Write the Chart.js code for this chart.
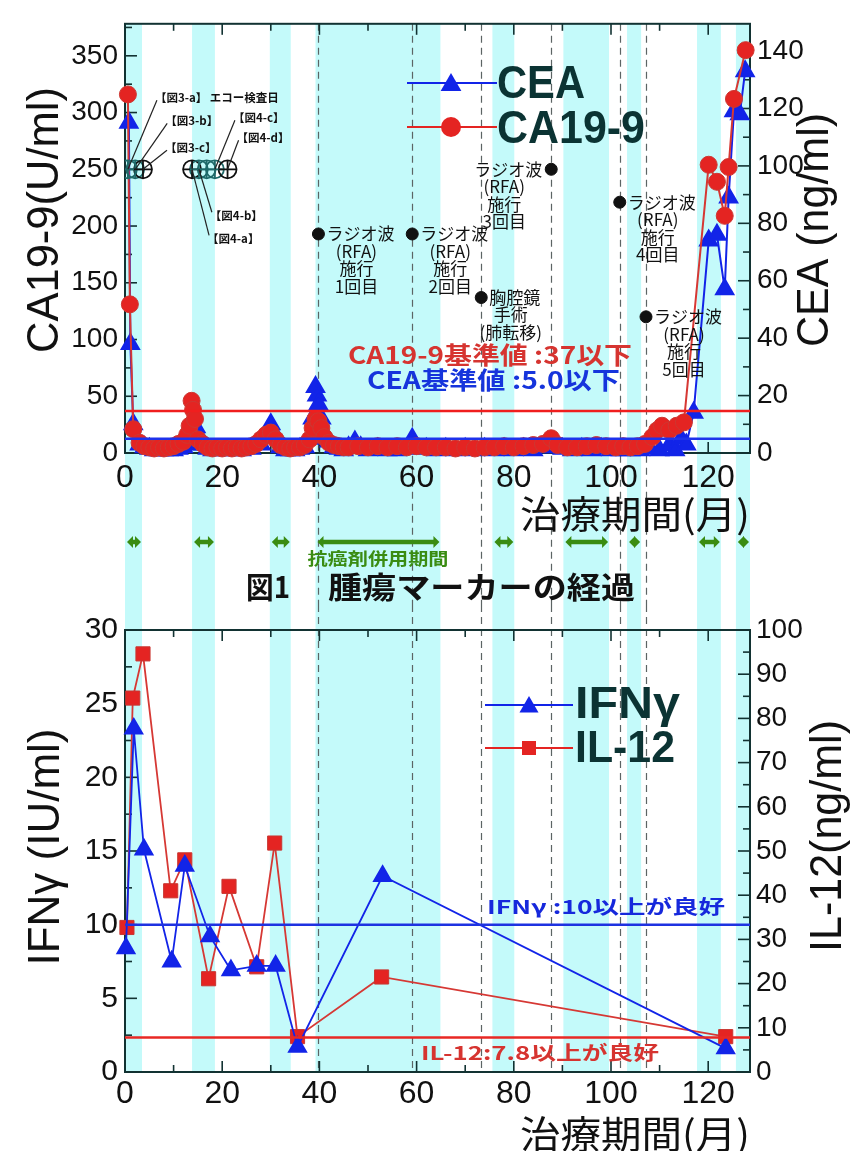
<!DOCTYPE html>
<html>
<head>
<meta charset="utf-8">
<script src="https://cdn.jsdelivr.net/npm/chart.js@4.4.1/dist/chart.umd.min.js"></script>
<style>
body{margin:0;background:#fff;}
canvas{display:block;}
</style>
</head>
<body>
<canvas id="markers" width="855" height="605"></canvas>
<canvas id="immune" width="855" height="546"></canvas>
<script>
// months (x axis) shared by both panels
const xMax = 128.6;
const bandStart = [0, 13.8, 29.8, 39.2, 75.6, 90.2, 103.3, 117.7, 125.7];
const bandEnd   = [3.5, 18.5, 34.1, 64.9, 80.1, 99.6, 106.2, 122.6, 128.6];
const dashMonths = [39.8, 59.1, 73.3, 87.7, 101.8, 107.2];

// CA19-9 (U/ml), left axis
const caMonths = [0.6,1.0,1.7, 3,4,5,6,7,8,9,10,11,12, 12.8,13.3,13.7,14.0,14.4,
  15,16,17,18,19,20,21,22,23,24,25,26,27,28,29,30,31,32,33,34,35,36,37,38,
  38.6,39.2,39.8,40.4, 41,42,43,44,45,46,
  48,50,52,54,56,58,60,62,64,66,68,70,72,74,76,78,80,82,84,86,
  87.7, 89,91,93,95,97,99,101,
  102.5,104,105.5,107,108.5,109.5,110.5,112,113.5,115,
  120.1,121.8,123.4,124.2,125.3,127.7];
const caValues = [316,131,21, 9,6,5,4,5,4,5,6,8,10, 16,24,46,38,30,
  12,8,5,4,5,4,5,4,5,4,5,6,8,12,16,18,12,7,5,4,5,5,7,12,
  22,30,28,22, 14,9,7,6,5,5,
  6,5,6,5,6,5,6,5,5,5,4,5,4,5,5,6,5,6,7,8,
  13, 7,5,5,6,7,6,5,
  6,5,6,8,14,20,24,20,24,27,
  254,239,209,252,312,355];

// CEA (ng/ml), right axis
const ceaMonths = [0.8,1.1,1.7, 3,4,5,6,7,8,9,10,11,12,13,14,14.6,15.2,16,17,18,
  20,22,24,26,28,29,30,31,32,33,34,35,36,37,38,
  38.6,39.2,39.5,39.8,40.4,41,42,43,44,45,46,47.3,48.5,
  50,52,54,56,58,59.1,60,62,64,66,68,70,72,74,76,78,80,82,84,86,88,90,92,94,96,98,100,
  102,104,106,108,110,112,113.2,114.4,115.5,117,
  120.1,121.8,123.4,124.2,125.3,126.5,127.6];
const ceaValues = [115,38,10, 3,2,1.5,1,1,1,1,1,1.5,2,3,6,9,6,3,1.5,1,
  1,1,1,1.5,3,6,10,6,2,1,1,1,1.5,2,5,
  12,23,20,17,12,7,4,2,1.5,1,2,4,2,
  1,1.5,1,1,1.5,5,2,1.5,1,1.5,1,1.5,1,1.5,1,1.5,1,1.5,1,2,2,1.5,1,1.5,1,1.5,1,
  1,1,1,1.5,1,2.7,1,5,3,14,
  74,76,57,89,119,118,133];

const caLimit = 37;
const ceaLimit = 5.0;

// echo examination days (drawn on the CA19-9 scale)
const echoMonths = [0.6, 2.1, 3.7, 13.8, 15.2, 16.8, 18.5, 21.1];
const echoLevel = 250;
const echoColors = ['#1f6a6a','#1f6a6a','#111','#111','#1f6a6a','#1f6a6a','#1f6a6a','#111'];
const echoLabels = ['【図3-a】 エコー検査日','【図3-b】','【図3-c】','【図4-a】','【図4-b】',null,'【図4-c】','【図4-d】'];

// treatments
const rfaMonths = [39.8, 59.1, 73.3, 87.7, 101.8, 107.2];
const rfaLevels = [193, 193, 137, 250, 221, 120];
const rfaLabels = [
  ['ラジオ波','(RFA)','施行','1回目'],
  ['ラジオ波','(RFA)','施行','2回目'],
  ['胸腔鏡','手術','(肺転移)'],
  ['ラジオ波','(RFA)','施行','3回目'],
  ['ラジオ波','(RFA)','施行','4回目'],
  ['ラジオ波','(RFA)','施行','5回目']
];

// IFN-gamma (IU/ml), left axis of lower panel
const ifnMonths = [0.2, 1.8, 3.9, 9.6, 12.3, 17.5, 21.8, 27.1, 31.0, 35.5, 53.0, 123.6];
const ifnValues = [8.4, 23.3, 15.1, 7.5, 14.0, 9.2, 6.9, 7.2, 7.2, 1.7, 13.3, 1.6];
// IL-12 (ng/ml), right axis of lower panel
const il12Months = [0.4, 1.6, 3.7, 9.4, 12.3, 17.2, 21.4, 27.1, 30.8, 35.5, 52.8, 123.6];
const il12Values = [32.7, 84.6, 94.6, 41.0, 48.0, 21.1, 42.0, 23.8, 51.8, 8.0, 21.5, 8.0];
const ifnLimit = 10;
const il12Limit = 7.8;

const LAT = "'Liberation Sans', Arial, sans-serif";
const JP = "'Noto Sans CJK JP', 'Liberation Sans', sans-serif";
const BLUE = 'rgb(18,36,232)';
const RED = 'rgb(228,36,34)';
const DARK = '#0b3333';
const GREEN = 'rgb(58,140,18)';

const pts = (xs, ys) => xs.map((x, i) => ({x: x, y: ys[i]}));
const flat = (v) => [{x: 0, y: v}, {x: xMax, y: v}];

function fitText(ctx, str, x, y, width, font, color, align, rot) {
  ctx.save();
  ctx.font = font;
  ctx.fillStyle = color;
  ctx.textBaseline = 'middle';
  ctx.textAlign = align || 'left';
  const w = ctx.measureText(str).width;
  ctx.translate(x, y);
  if (rot) ctx.rotate(rot);
  ctx.scale(width ? width / w : 1, 1);
  ctx.fillText(str, 0, 0);
  ctx.restore();
}

function seg(ctx, x1, y1, x2, y2) {
  ctx.beginPath(); ctx.moveTo(x1, y1); ctx.lineTo(x2, y2); ctx.stroke();
}

// cyan periods + dashed treatment lines, reaching through the gap between panels
const backdrop = {
  id: 'backdrop',
  beforeDraw(chart, args, opts) {
    const {ctx, chartArea: a, scales: {x}} = chart;
    const y0 = opts.down ? a.top : 0;
    const y1 = opts.down ? chart.height : a.bottom;
    ctx.save();
    ctx.fillStyle = 'rgb(196,250,250)';
    bandStart.forEach((s, i) => {
      const p0 = x.getPixelForValue(s), p1 = x.getPixelForValue(bandEnd[i]);
      ctx.fillRect(p0, y0, p1 - p0, y1 - y0);
    });
    ctx.strokeStyle = '#5c6464';
    ctx.lineWidth = 1.2;
    ctx.setLineDash([7, 5]);
    dashMonths.forEach(m => {
      const p = Math.round(x.getPixelForValue(m)) + 0.5;
      seg(ctx, p, y0, p, y1);
    });
    ctx.restore();
  }
};

// box with inward tick marks
const frame = {
  id: 'frame',
  beforeDatasetsDraw(chart, args, opts) {
    const {ctx, chartArea: a, scales} = chart;
    ctx.save();
    ctx.strokeStyle = '#123232';
    ctx.lineWidth = 2;
    ctx.strokeRect(a.left, a.top, a.right - a.left, a.bottom - a.top);
    ctx.lineWidth = 1.6;
    const x = scales.x;
    for (let v = 0; v <= x.max + 1e-6; v += 10) {
      const p = x.getPixelForValue(v), len = v % 20 ? 7 : 11;
      seg(ctx, p, a.bottom, p, a.bottom - len);
      seg(ctx, p, a.top, p, a.top + len);
    }
    opts.axes.forEach(ax => {
      const s = scales[ax.id];
      for (let k = 0; k * ax.minor <= s.max + 1e-6; k++) {
        const p = s.getPixelForValue(k * ax.minor), len = k % ax.every ? 7 : 12;
        if (ax.side === 'left') seg(ctx, a.left, p, a.left + len, p);
        else seg(ctx, a.right, p, a.right - len, p);
      }
    });
    ctx.restore();
  }
};

function triangle(ctx, x, y, r, color) {
  ctx.fillStyle = color;
  ctx.beginPath();
  ctx.moveTo(x, y - r);
  ctx.lineTo(x + r * 0.866, y + r / 2);
  ctx.lineTo(x - r * 0.866, y + r / 2);
  ctx.closePath(); ctx.fill();
}

function dblArrow(ctx, x1, x2, y) {
  const w = 6, h = 6;
  ctx.lineWidth = 4.5;
  seg(ctx, x1 + w - 1, y, x2 - w + 1, y);
  ctx.beginPath(); ctx.moveTo(x1, y); ctx.lineTo(x1 + w, y - h); ctx.lineTo(x1 + w, y + h); ctx.closePath(); ctx.fill();
  ctx.beginPath(); ctx.moveTo(x2, y); ctx.lineTo(x2 - w, y - h); ctx.lineTo(x2 - w, y + h); ctx.closePath(); ctx.fill();
}

const topNotes = {
  id: 'topNotes',
  afterDraw(chart) {
    const {ctx, scales: {x, yCA}} = chart;
    ctx.save();
    // axis titles
    fitText(ctx, 'CA19-9(U/ml)', 46, 220, 266, '44px ' + LAT, '#111', 'center', -Math.PI / 2);
    fitText(ctx, 'CEA (ng/ml)', 816, 230, 234, '44px ' + LAT, '#111', 'center', -Math.PI / 2);
    fitText(ctx, '治療期間(月)', 750, 514, 230, '38px ' + JP, '#111', 'right');

    // legend
    ctx.lineWidth = 2;
    ctx.strokeStyle = BLUE; seg(ctx, 407, 83, 497, 83);
    triangle(ctx, 451, 85, 12, BLUE);
    ctx.strokeStyle = RED; seg(ctx, 407, 127, 497, 127);
    ctx.fillStyle = RED; ctx.beginPath(); ctx.arc(451, 127, 10, 0, Math.PI * 2); ctx.fill();
    fitText(ctx, 'CEA', 497, 85, 88, 'bold 46px ' + LAT, DARK, 'left');
    fitText(ctx, 'CA19-9', 497, 130, 148, 'bold 46px ' + LAT, DARK, 'left');

    // reference values
    fitText(ctx, 'CA19-9基準値 :37以下', 348, 355, 284, 'bold 24px ' + JP, 'rgb(214,52,48)', 'left');
    fitText(ctx, 'CEA基準値 :5.0以下', 367, 380, 253, 'bold 24px ' + JP, 'rgb(22,52,220)', 'left');

    // echo labels with leader lines
    const place = [[27, -72], [30, -49], [22, -22], [15, 69], [11, 46], null, [18, -52], [9, -32]];
    ctx.strokeStyle = '#222';
    ctx.lineWidth = 1.2;
    echoMonths.forEach((m, i) => {
      if (!echoLabels[i]) return;
      const px = x.getPixelForValue(m), py = yCA.getPixelForValue(echoLevel);
      const [dx, dy] = place[i];
      seg(ctx, px, py, px + dx + 2, py + dy + (dy < 0 ? 3 : -3));
      ctx.font = 'bold 11.5px ' + JP;
      ctx.fillStyle = '#111';
      ctx.textAlign = 'left';
      ctx.textBaseline = 'middle';
      ctx.fillText(echoLabels[i], px + dx, py + dy);
    });

    // treatment notes
    rfaMonths.forEach((m, i) => {
      const px = x.getPixelForValue(m), py = yCA.getPixelForValue(rfaLevels[i]);
      const lines = rfaLabels[i];
      ctx.font = '17px ' + JP;
      ctx.fillStyle = '#111';
      ctx.textBaseline = 'middle';
      const w0 = ctx.measureText(lines[0]).width;
      const x0 = i === 3 ? px - 9 - w0 : px + 8;
      ctx.textAlign = 'left';
      ctx.fillText(lines[0], x0, py);
      ctx.textAlign = 'center';
      lines.slice(1).forEach((t, j) => ctx.fillText(t, x0 + w0 / 2 - 4, py + 17.5 * (j + 1)));
    });

    // period arrows
    ctx.strokeStyle = GREEN;
    ctx.fillStyle = GREEN;
    bandStart.forEach((s, i) => {
      dblArrow(ctx, x.getPixelForValue(s) + 2, x.getPixelForValue(bandEnd[i]) - 1, 542);
    });
    const mid = (x.getPixelForValue(bandStart[3]) + x.getPixelForValue(bandEnd[3])) / 2;
    fitText(ctx, '抗癌剤併用期間', mid, 559, 141, 'bold 17px ' + JP, GREEN, 'center');

    // figure caption
    fitText(ctx, '図1', 246, 587, 44, 'bold 30px ' + JP, '#111', 'left');
    fitText(ctx, '腫瘍マーカーの経過', 328, 587, 307, 'bold 30px ' + JP, '#111', 'left');
    ctx.restore();
  }
};

const bottomNotes = {
  id: 'bottomNotes',
  afterDraw(chart) {
    const {ctx} = chart;
    const off = 605;
    ctx.save();
    fitText(ctx, 'IFNγ (IU/ml)', 47, 847 - off, 237, '44px ' + LAT, '#111', 'center', -Math.PI / 2);
    fitText(ctx, 'IL-12(ng/ml)', 829, 836 - off, 232, '44px ' + LAT, '#111', 'center', -Math.PI / 2);
    fitText(ctx, '治療期間(月)', 750, 1134 - off, 230, '38px ' + JP, '#111', 'right');

    ctx.lineWidth = 2;
    ctx.strokeStyle = BLUE; seg(ctx, 485, 705 - off, 573, 705 - off);
    triangle(ctx, 529, 707 - off, 11, BLUE);
    ctx.strokeStyle = RED; seg(ctx, 485, 748 - off, 573, 748 - off);
    ctx.fillStyle = RED; ctx.fillRect(522, 741 - off, 14, 14);
    fitText(ctx, 'IFNγ', 575, 706 - off, 105, 'bold 44px ' + LAT, DARK, 'left');
    fitText(ctx, 'IL-12', 575, 750 - off, 100, 'bold 44px ' + LAT, DARK, 'left');

    fitText(ctx, 'IFNγ :10以上が良好', 487, 907 - off, 238, 'bold 19px ' + JP, 'rgb(22,40,220)', 'left');
    fitText(ctx, 'IL-12:7.8以上が良好', 421, 1053 - off, 238, 'bold 19px ' + JP, 'rgb(214,52,48)', 'left');
    ctx.restore();
  }
};

const tickFont = (size) => ({family: LAT, size: size});

new Chart(document.getElementById('markers'), {
  type: 'scatter',
  data: {
    datasets: [
      {data: flat(ceaLimit), yAxisID: 'yCEA', showLine: true, borderColor: 'rgb(30,50,235)', borderWidth: 2.5, pointRadius: 0},
      {data: flat(caLimit), yAxisID: 'yCA', showLine: true, borderColor: 'rgb(240,30,30)', borderWidth: 2.5, pointRadius: 0},
      {data: pts(rfaMonths, rfaLevels), yAxisID: 'yCA', pointRadius: 6, backgroundColor: '#111', borderColor: '#111'},
      {data: pts(echoMonths, echoMonths.map(() => echoLevel)), yAxisID: 'yCA', pointStyle: 'cross', pointRadius: 9,
        borderColor: echoColors, borderWidth: 1.8},
      {data: pts(echoMonths, echoMonths.map(() => echoLevel)), yAxisID: 'yCA', pointStyle: 'circle', pointRadius: 9,
        backgroundColor: 'rgba(0,0,0,0)', borderColor: echoColors, borderWidth: 1.8},
      {label: 'CA19-9', data: pts(caMonths, caValues), yAxisID: 'yCA', showLine: true, clip: false,
        borderColor: 'rgb(214,56,52)', borderWidth: 2, pointRadius: 8.5,
        backgroundColor: RED, pointBorderColor: 'rgb(205,55,50)', pointBorderWidth: 1},
      {label: 'CEA', data: pts(ceaMonths, ceaValues), yAxisID: 'yCEA', showLine: true, clip: false,
        borderColor: BLUE, borderWidth: 2, pointStyle: 'triangle', pointRadius: 10,
        backgroundColor: BLUE, pointBorderColor: BLUE}
    ]
  },
  options: {
    responsive: false,
    animation: false,
    layout: {padding: {top: 10, left: 0, right: 0, bottom: 0}},
    plugins: {
      legend: {display: false},
      tooltip: {enabled: false},
      backdrop: {down: true},
      frame: {axes: [{id: 'yCA', minor: 25, every: 2, side: 'left'}, {id: 'yCEA', minor: 10, every: 2, side: 'right'}]}
    },
    scales: {
      x: {type: 'linear', min: 0, max: xMax,
        afterFit: s => { s.height = 605 - 453; },
        grid: {display: false, drawTicks: false}, border: {display: false},
        ticks: {stepSize: 20, includeBounds: false, padding: 6, color: '#111', font: tickFont(32)}},
      yCA: {type: 'linear', position: 'left', min: 0, max: 378.2,
        afterFit: s => { s.width = 125; },
        grid: {display: false, drawTicks: false}, border: {display: false},
        ticks: {stepSize: 50, includeBounds: false, padding: 7, color: '#111', font: tickFont(28)}},
      yCEA: {type: 'linear', position: 'right', min: 0, max: 149.5,
        afterFit: s => { s.width = 105; },
        grid: {display: false, drawTicks: false}, border: {display: false},
        ticks: {stepSize: 20, includeBounds: false, padding: 7, color: '#111', font: tickFont(28)}}
    }
  },
  plugins: [backdrop, frame, topNotes]
});

new Chart(document.getElementById('immune'), {
  type: 'scatter',
  data: {
    datasets: [
      {data: flat(ifnLimit), yAxisID: 'yIFN', showLine: true, borderColor: 'rgb(30,50,225)', borderWidth: 2.5, pointRadius: 0},
      {data: flat(il12Limit), yAxisID: 'yIL', showLine: true, borderColor: 'rgb(232,40,36)', borderWidth: 2.5, pointRadius: 0},
      {label: 'IFNγ', data: pts(ifnMonths, ifnValues), yAxisID: 'yIFN', showLine: true, clip: false,
        borderColor: BLUE, borderWidth: 1.8, pointStyle: 'triangle', pointRadius: 10,
        backgroundColor: BLUE, pointBorderColor: BLUE},
      {label: 'IL-12', data: pts(il12Months, il12Values), yAxisID: 'yIL', showLine: true, clip: false,
        borderColor: 'rgb(214,56,52)', borderWidth: 1.8, pointStyle: 'rect', pointRadius: 10,
        backgroundColor: RED, pointBorderColor: 'rgb(200,55,50)', pointBorderWidth: 1}
    ]
  },
  options: {
    responsive: false,
    animation: false,
    layout: {padding: {top: 22, left: 0, right: 0, bottom: 0}},
    plugins: {
      legend: {display: false},
      tooltip: {enabled: false},
      backdrop: {down: false},
      frame: {axes: [{id: 'yIFN', minor: 2.5, every: 2, side: 'left'}, {id: 'yIL', minor: 5, every: 2, side: 'right'}]}
    },
    scales: {
      x: {type: 'linear', min: 0, max: xMax,
        afterFit: s => { s.height = 546 - 467; },
        grid: {display: false, drawTicks: false}, border: {display: false},
        ticks: {stepSize: 20, includeBounds: false, padding: 3, color: '#111', font: tickFont(32)}},
      yIFN: {type: 'linear', position: 'left', min: 0, max: 30,
        afterFit: s => { s.width = 125; },
        grid: {display: false, drawTicks: false}, border: {display: false},
        ticks: {stepSize: 5, padding: 7, color: '#111', font: tickFont(30)}},
      yIL: {type: 'linear', position: 'right', min: 0, max: 100,
        afterFit: s => { s.width = 105; },
        grid: {display: false, drawTicks: false}, border: {display: false},
        ticks: {stepSize: 10, padding: 6, color: '#111', font: tickFont(28)}}
    }
  },
  plugins: [backdrop, frame, bottomNotes]
});
</script>
</body>
</html>
